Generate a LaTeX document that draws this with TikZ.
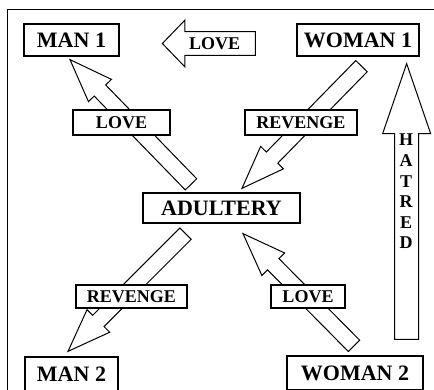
\documentclass[tikz,border=0pt]{standalone}
\usepackage{fontspec}
\setmainfont{Liberation Serif}
\usetikzlibrary{calc,shapes.arrows}

\begin{document}
\begin{tikzpicture}[x=1pt,y=-1pt,
    box/.style={draw,line width=1.3pt,fill=white,inner sep=0pt,minimum height=32pt,font=\bfseries\fontsize{22}{26}\selectfont},
    tag/.style={draw,line width=1.3pt,fill=white,inner sep=0pt,font=\bfseries\fontsize{18}{21}\selectfont},
    fat/.style n args={3}{draw,fill=white,line width=1pt,to path={
        ($(\tikztostart)!#1!90:(\tikztotarget)$)
        -- ($($(\tikztotarget)!#3!(\tikztostart)$)!#1!90:(\tikztotarget)$)
        -- ($($(\tikztotarget)!#3!(\tikztostart)$)!#2!90:(\tikztotarget)$)
        -- (\tikztotarget)
        -- ($($(\tikztotarget)!#3!(\tikztostart)$)!#2!-90:(\tikztotarget)$)
        -- ($($(\tikztotarget)!#3!(\tikztostart)$)!#1!-90:(\tikztotarget)$)
        -- ($(\tikztostart)!#1!-90:(\tikztotarget)$) -- cycle}}]
    \useasboundingbox (0,0) rectangle (434,390);
    \draw[line width=1.4pt] (7.5,400) |- (440,9.5);
    \node[box,minimum width=157pt,minimum height=30pt] (adultery) at (221.5,208) {ADULTERY};
    \node[box,minimum width=95pt] (man1) at ($(adultery)+(-150,-168)$) {MAN 1};
    \node[box,minimum width=122pt] (woman1) at ($(adultery)+(136.5,-168)$) {WOMAN 1};
    \node[box,minimum width=93pt,minimum height=34pt] (man2) at ($(adultery)+(-150,166)$) {MAN 2};
    \node[box,minimum width=136pt,minimum height=34pt] (woman2) at ($(adultery)+(133.5,165)$) {WOMAN 2};
    \node[single arrow,draw,line width=1pt,shape border rotate=180,single arrow head extend=11.5pt,
        single arrow tip angle=92,minimum height=93pt,inner xsep=4pt,inner ysep=5.3pt,
        font=\bfseries\fontsize{18}{21}\selectfont,anchor=tip] (lovetop) at ($(man1.east)+(42,3.5)$) {LOVE};
    \coordinate (a1) at ($(adultery.north)+(-30.5,-8)$);
    \coordinate (a2) at ($(man1.south)+(-1.5,3)$);
    \coordinate (b1) at ($(woman1.south)+(3.5,9.5)$);
    \coordinate (b2) at ($(adultery.north)+(20.5,-4)$);
    \coordinate (c1) at ($(adultery.south)+(-36,10)$);
    \coordinate (c2) at ($(man2.north)+(-3.5,-5)$);
    \coordinate (d1) at ($(woman2.north)+(-1,-9.5)$);
    \coordinate (d2) at ($(adultery.south)+(21.5,10)$);
    \coordinate (h1) at ($(woman2.north east)+(-17,-16)$);
    \coordinate (h2) at ($(woman1.south east)+(-13,7)$);
    \draw[fat={8pt}{16pt}{43pt}] (a1) to (a2);
    \draw[fat={8pt}{16pt}{43pt}] (b1) to (b2);
    \draw[fat={8pt}{16pt}{43pt}] (c1) to (c2);
    \draw[fat={8pt}{16pt}{43pt}] (d1) to (d2);
    \draw[fat={12pt}{24pt}{70pt}] (h1) to (h2);
    \node[tag,minimum width=97pt,minimum height=25pt] (love1) at (121.5,122.5) {LOVE};
    \node[tag,minimum width=112pt,minimum height=25pt] (revenge1) at (301,122.5) {REVENGE};
    \node[tag,minimum width=111pt,minimum height=23pt] (revenge2) at (131.5,296.5) {REVENGE};
    \node[tag,minimum width=74pt,minimum height=23pt] (love2) at (308,296.5) {LOVE};
    \node[font=\bfseries\fontsize{18}{20.6}\selectfont,align=center,inner sep=0pt] (hatred) at (406,191.5) {H\\A\\T\\R\\E\\D};
\end{tikzpicture}
\end{document}
